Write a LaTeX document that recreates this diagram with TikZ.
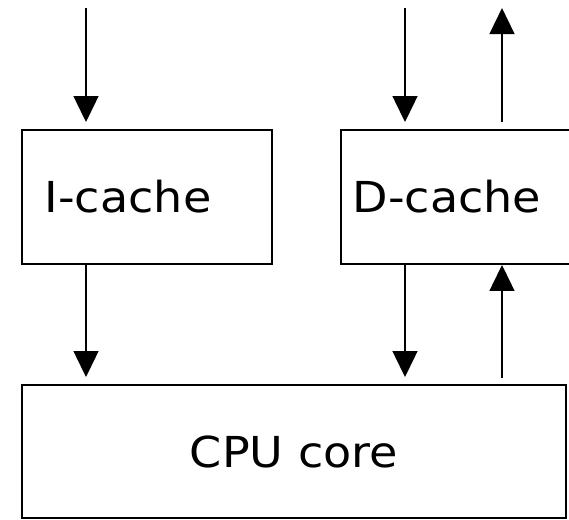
\documentclass[tikz,border=0pt]{standalone}
\usepackage{fontspec}
\setmainfont[FakeStretch=1.08]{DejaVu Sans}
\usetikzlibrary{arrows.meta,positioning}
\newdimen\px
\px=0.75pt

\begin{document}
\begin{tikzpicture}[x=0.75pt,y=-0.75pt,
  box/.style={draw,line width=1.4pt,inner sep=0pt},
  lbl/.style={font=\fontsize{32}{38}\selectfont},
  arr/.style={line width=1.8pt,-{Triangle[length=19.5pt,width=18.5pt]}}]
\clip (0,0) rectangle (569,519);
% boxes
\node[box,minimum width=250\px,minimum height=134\px] (icache) at (147,197) {};
\node[box,minimum width=279\px,minimum height=134\px] (dcache) at (480.5,197) {};
\node[box,lbl,minimum width=544\px,minimum height=133\px] (cpu) at (294,451.5) {CPU core};
\node[lbl] (ilabel) at (128,197) {I-cache};
\node[lbl] (dlabel) at (447,197) {D-cache};
% free ends
\coordinate (iin) at (86,8);
\coordinate (din) at (405,8);
\coordinate (dout) at (502,8);
% connectors
\draw[arr,shorten >=5.25pt] (iin) -- (iin |- icache.north);
\draw[arr,shorten >=5.25pt] (din) -- (din |- dcache.north);
\draw[arr,shorten <=5.25pt] (dout |- dcache.north) -- (dout);
\draw[arr,shorten >=5.25pt] (iin |- icache.south) -- (iin |- cpu.north);
\draw[arr,shorten >=5.25pt] (din |- dcache.south) -- (din |- cpu.north);
\draw[arr,shorten <=4.5pt] (dout |- cpu.north) -- (dout |- dcache.south);
\end{tikzpicture}
\end{document}
